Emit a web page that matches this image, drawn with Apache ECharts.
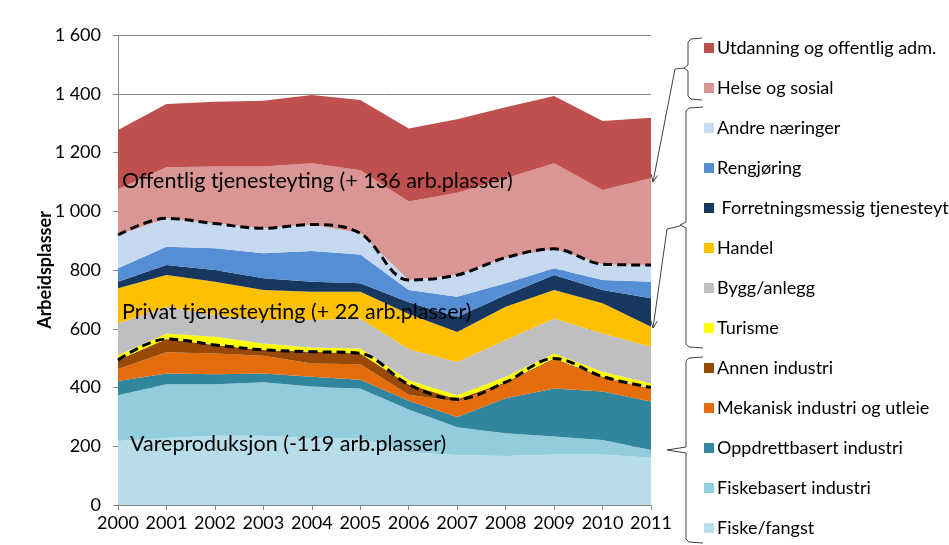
<!DOCTYPE html>
<html>
<head>
<meta charset="utf-8">
<script src="https://cdn.jsdelivr.net/npm/echarts@6/dist/echarts.min.js"></script>
<style>
html,body{margin:0;padding:0;background:#fff;}
#c{width:949px;height:545px;}
</style>
</head>
<body>
<div id="c"></div>
<script>
// ---- data ----
const years = ['2000','2001','2002','2003','2004','2005','2006','2007','2008','2009','2010','2011'];
const yTicks = [0, 200, 400, 600, 800, 1000, 1200, 1400, 1600];

const fiskeFangst   = [218, 228, 236, 236, 227, 227, 180, 170, 167, 172, 172, 161];
const fiskebasert   = [156, 183, 175, 182, 176, 170, 145,  95,  77,  61,  49,  26];
const oppdrett      = [ 48,  37,  34,  30,  34,  29,  30,  35, 119, 164, 165, 165];
const mekanisk      = [ 41,  72,  71,  60,  45,  53,  20,  52,  51,  98,  47,  44];
const annenIndustri = [ 31,  45,  29,  20,  40,  37,  35,   8,   4,   4,   4,   4];
const turisme       = [ 16,  19,  28,  22,  14,  17,  15,  14,  19,  17,  17,  14];
const bygg          = [108,  91,  74,  80,  94, 102, 105, 113, 125, 119, 130, 125];
const handel        = [120, 108, 113, 102,  96,  91, 120, 102, 113,  97, 103,  68];
const forretning    = [ 22,  34,  40,  40,  34,  29,  40,  51,  40,  51,  45,  97];
const rengjoring    = [ 46,  62,  74,  85, 105,  98,  42,  69,  40,  23,  34,  56];
const andre         = [113,  97,  84,  85,  90,  72,  34,  74,  87,  66,  54,  57];
const helse         = [156, 174, 194, 210, 208, 215, 267, 280, 270, 291, 252, 295];
const utdanning     = [202, 215, 221, 224, 233, 239, 249, 250, 242, 229, 235, 206];

const seriesDefs = [
  {name:'Fiske/fangst', data:fiskeFangst, color:'#B7DEE8'},
  {name:'Fiskebasert industri', data:fiskebasert, color:'#93CDDD'},
  {name:'Oppdrettbasert industri', data:oppdrett, color:'#31859C'},
  {name:'Mekanisk industri og utleie', data:mekanisk, color:'#E46C0A'},
  {name:'Annen industri', data:annenIndustri, color:'#984807'},
  {name:'Turisme', data:turisme, color:'#FFFF00'},
  {name:'Bygg/anlegg', data:bygg, color:'#BFBFBF'},
  {name:'Handel', data:handel, color:'#FFC000'},
  {name:'Forretningsmessig tjenesteyting', data:forretning, color:'#17375E'},
  {name:'Rengjøring', data:rengjoring, color:'#558ED5'},
  {name:'Andre næringer', data:andre, color:'#C6D9F1'},
  {name:'Helse og sosial', data:helse, color:'#D99694'},
  {name:'Utdanning og offentlig adm.', data:utdanning, color:'#C0504D'}
];

// cumulative boundaries for the dashed group lines
function cum(arrs){ return years.map((_,i)=>arrs.reduce((s,a)=>s+a[i],0)); }
const vareTotal = cum([fiskeFangst,fiskebasert,oppdrett,mekanisk,annenIndustri]);
const privTotal = cum([fiskeFangst,fiskebasert,oppdrett,mekanisk,annenIndustri,turisme,bygg,handel,forretning,rengjoring,andre]);

const FONT = 'Lato, "Noto Sans", sans-serif';
const chart = echarts.init(document.getElementById('c'), null, {renderer:'canvas'});

const series = seriesDefs.map(s=>({
  name:s.name, type:'line', stack:'total', data:s.data,
  symbol:'none', lineStyle:{width:0}, itemStyle:{color:s.color},
  areaStyle:{color:s.color, opacity:1}, z:2
}));
[vareTotal, privTotal].forEach(d=>series.push({
  type:'line', data:d, symbol:'none', smooth:0.35, z:5,
  lineStyle:{color:'#000', width:3, type:[9,5]}, silent:true
}));

function arrow(pts){
  const n=pts.length, a=pts[n-2], b=pts[n-1];
  const dx=b[0]-a[0], dy=b[1]-a[1], L=Math.hypot(dx,dy);
  const ux=-dx/L, uy=-dy/L, c=Math.cos(0.42), s=Math.sin(0.42), k=8;
  const p1=[b[0]+k*(ux*c-uy*s), b[1]+k*(ux*s+uy*c)];
  const p2=[b[0]+k*(ux*c+uy*s), b[1]+k*(-ux*s+uy*c)];
  return [
    {type:'polyline', z:100, shape:{points:pts}, style:{stroke:'#404040', lineWidth:1, fill:null}},
    {type:'polyline', z:100, shape:{points:[p1,b,p2]}, style:{stroke:'#404040', lineWidth:1, fill:null}}
  ];
}
function brace(x, y1, y2, ym, tipX, beakX){
  return {type:'polyline', z:100, shape:{points:[[tipX,y1],[x+3,y1+1],[x,y1+4],[x,ym-3],[beakX,ym],[x,ym+3],[x,y2-4],[x+3,y2-1],[tipX,y2]]},
    style:{stroke:'#404040', lineWidth:1, fill:null}};
}

const ANN = '21.5px '+FONT;
const graphics = [
  brace(688, 38, 100, 68, 702, 684),
  brace(686, 107, 348, 225, 703, 680),
  brace(686, 357, 543, 450, 703, 667),
  ...arrow([[684,68],[675,69],[653,182]]),
  ...arrow([[680,226],[667,229],[653,328]]),
  {type:'text', z:100, x:122, y:181, style:{text:'Offentlig tjenesteyting (+ 136 arb.plasser)', font:ANN, fill:'#000', verticalAlign:'middle'}},
  {type:'text', z:100, x:122, y:312, style:{text:'Privat tjenesteyting (+ 22 arb.plasser)', font:ANN, fill:'#000', verticalAlign:'middle'}},
  {type:'text', z:100, x:130, y:444, style:{text:'Vareproduksjon (-119 arb.plasser)', font:ANN, fill:'#000', verticalAlign:'middle'}}
];

chart.setOption({
  animation:false,
  textStyle:{fontFamily:FONT},
  grid:{left:118, right:298, top:35, bottom:40},
  legend:{
    orient:'vertical', left:704, top:38, padding:0, itemWidth:10, itemHeight:10, itemGap:20,
    icon:'rect', selectedMode:false,
    data:seriesDefs.map(s=>s.name).reverse(),
    formatter:n=> n==='Forretningsmessig tjenesteyting' ? ' Forretningsmessig tjenesteyt' : n,
    textStyle:{fontSize:18, color:'#000', lineHeight:20, fontFamily:FONT, padding:[0,0,0,-2]}
  },
  xAxis:{
    type:'category', data:years, boundaryGap:false,
    axisLine:{lineStyle:{color:'#868686'}}, axisTick:{lineStyle:{color:'#868686'}, length:5},
    axisLabel:{color:'#000', fontSize:18, margin:9, interval:0, hideOverlap:false}
  },
  yAxis:{
    type:'value', min:yTicks[0], max:yTicks[yTicks.length-1], interval:200,
    name:'Arbeidsplasser', nameLocation:'middle', nameRotate:90, nameGap:64, nameMoveOverlap:false,
    nameTextStyle:{fontWeight:'bold', fontSize:18, color:'#000'},
    axisLine:{show:true, lineStyle:{color:'#868686'}},
    axisTick:{show:true, length:5, lineStyle:{color:'#868686'}},
    splitLine:{lineStyle:{color:'#868686'}},
    axisLabel:{color:'#000', fontSize:18, margin:17,
      formatter:v=> String(v).replace(/\B(?=(\d{3})+(?!\d))/g,' ')}
  },
  series:series,
  graphic:graphics
});
</script>
</body>
</html>
